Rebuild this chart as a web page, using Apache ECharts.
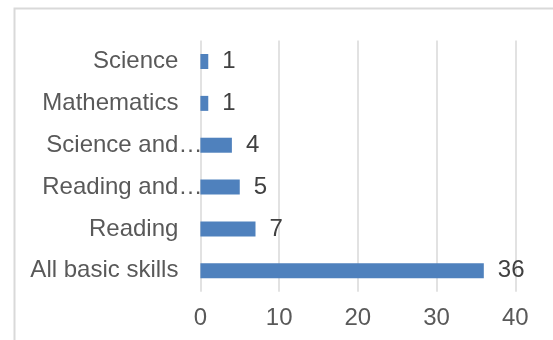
<!DOCTYPE html>
<html>
<head>
<meta charset="utf-8">
<style>
  html, body { margin: 0; padding: 0; background: #ffffff; }
  #chart { width: 553px; height: 340px; }
</style>
<script src="https://cdn.jsdelivr.net/npm/echarts@6/dist/echarts.min.js"></script>
</head>
<body>
<div id="chart"></div>
<script>
// Skill areas, listed bottom to top as they stack on the category axis
const categories = ['All basic skills', 'Reading', 'Reading and…', 'Science and…', 'Mathematics', 'Science'];
const counts = [36, 7, 5, 4, 1, 1];
const xTicks = { min: 0, max: 40, interval: 10 };

const FONT = '"Liberation Sans", Arial, sans-serif';
const SIZE = 24;

const chart = echarts.init(document.getElementById('chart'), null, { renderer: 'canvas' });

// Truncated names: right-align the stem and let the ellipsis hang past it
function categoryLabel(name) {
  if (name.endsWith('…')) {
    return '{m|' + name.slice(0, -1) + '}{e|…}';
  }
  return name;
}

chart.setOption({
  animation: false,
  backgroundColor: '#ffffff',
  graphic: [{
    type: 'rect',
    silent: true,
    shape: { x: 14.5, y: 8.5, width: 700, height: 500 },
    style: { fill: 'none', stroke: '#d9d9d9', lineWidth: 2 }
  }],
  grid: { left: 200.4, right: 37.7, top: 40.6, bottom: 48.3, containLabel: false },
  xAxis: {
    type: 'value',
    min: xTicks.min,
    max: xTicks.max,
    interval: xTicks.interval,
    axisLine: { show: false },
    axisTick: { show: false },
    splitLine: { show: true, lineStyle: { color: '#d9d9d9', width: 1.5 } },
    axisLabel: { color: '#595959', fontSize: SIZE, fontFamily: FONT, margin: 15 }
  },
  yAxis: {
    type: 'category',
    data: categories,
    axisLine: { show: false },
    axisTick: { show: false },
    splitLine: { show: false },
    axisLabel: {
      color: '#595959',
      fontSize: SIZE,
      fontFamily: FONT,
      margin: 22,
      formatter: categoryLabel,
      rich: {
        m: { color: '#595959', fontSize: SIZE, fontFamily: FONT, align: 'left' },
        e: { color: '#595959', fontSize: SIZE, fontFamily: FONT, align: 'left', width: 0 }
      }
    }
  },
  series: [{
    type: 'bar',
    data: counts,
    barWidth: 15,
    itemStyle: { color: '#4f81bd' },
    label: {
      show: true,
      position: 'right',
      distance: 14,
      color: '#404040',
      fontSize: SIZE,
      fontFamily: FONT
    }
  }]
});
</script>
</body>
</html>
